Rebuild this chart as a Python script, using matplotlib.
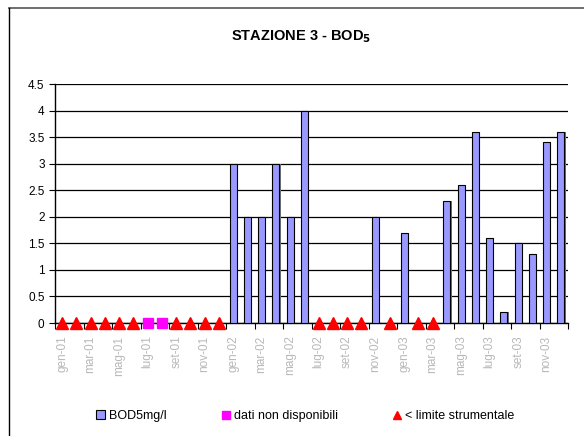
import matplotlib
matplotlib.use("Agg")
import matplotlib.pyplot as plt
from matplotlib.lines import Line2D
from matplotlib.patches import Patch
import numpy as np

plt.rcParams['font.family'] = ['Liberation Sans', 'DejaVu Sans']

months = ["gen", "feb", "mar", "apr", "mag", "giu",
          "lug", "ago", "set", "ott", "nov", "dic"]
years = ["01", "02", "03"]
categories = [f"{m}-{y}" for y in years for m in months]

# BOD5 (mg/l); None = no measured value
bod5 = [None, None, None, None, None, None, None, None, None, None, None, None,
        3.0, 2.0, 2.0, 3.0, 2.0, 4.0, None, None, None, None, 2.0, None,
        1.7, None, None, 2.3, 2.6, 3.6, 1.6, 0.2, 1.5, 1.3, 3.4, 3.6]
# months with data not available
no_data = ["lug-01", "ago-01"]
# months below the instrumental limit
below_limit = ["gen-01", "feb-01", "mar-01", "apr-01", "mag-01", "giu-01",
               "set-01", "ott-01", "nov-01", "dic-01",
               "lug-02", "ago-02", "set-02", "ott-02", "dic-02",
               "feb-03", "mar-03"]

fig = plt.figure(figsize=(5.84, 4.36), dpi=100)
ax = fig.add_axes([55 / 584, 1 - 323 / 436, (568 - 55) / 584, (323 - 84) / 436])

x = np.arange(len(categories))
bar_x = [i for i, v in enumerate(bod5) if v is not None]
bar_v = [v for v in bod5 if v is not None]

# drop shadow behind bars
ax.bar(np.array(bar_x) + 0.09, bar_v, width=0.5, color="#707070", zorder=2,
       linewidth=0)
ax.bar(bar_x, bar_v, width=0.5, color="#9999FF", edgecolor="black",
       linewidth=0.8, zorder=3)

nd_x = [categories.index(c) for c in no_data]
bl_x = [categories.index(c) for c in below_limit]
ax.plot(nd_x, [0] * len(nd_x), linestyle="none", marker="s", markersize=7.5,
        color="#FF00FF", zorder=5, clip_on=False)
ax.plot(bl_x, [0] * len(bl_x), linestyle="none", marker="^", markersize=8,
        color="#FF0000", zorder=5, clip_on=False)

ax.set_xlim(-0.5, len(categories) - 0.5)
ax.set_ylim(0, 4.5)
ax.set_yticks(np.arange(0, 4.51, 0.5))
ax.set_yticklabels(["0", "0.5", "1", "1.5", "2", "2.5", "3", "3.5", "4", "4.5"])
ax.yaxis.grid(True, color="black", linewidth=0.9)
ax.set_axisbelow(True)

ax.set_xticks(x[::2])
ax.set_xticklabels(categories[::2], rotation=90, color="#b8b8b8", fontsize=8.5)
ax.tick_params(axis="x", which="major", length=0, pad=9)
ax.set_xticks(np.arange(-0.5, len(categories), 2), minor=True)
ax.tick_params(axis="x", which="minor", length=4, width=0.8, color="black",
               direction="out")
ax.tick_params(axis="y", labelsize=8.5, length=4, width=0.8, direction="out")

for s in ["top", "right"]:
    ax.spines[s].set_visible(False)
for s in ["left", "bottom"]:
    ax.spines[s].set_linewidth(1.0)
ax.set_facecolor("white")

fig.text(0.515, 1 - 37 / 436, r"STAZIONE 3 - BOD$_\mathbf{5}$", ha="center",
         va="center", fontsize=10.5, fontweight="bold")

handles = [
    Patch(facecolor="#9999FF", edgecolor="black", linewidth=0.8),
    Line2D([], [], linestyle="none", marker="s", markersize=6, color="#FF00FF"),
    Line2D([], [], linestyle="none", marker="^", markersize=6, color="#FF0000"),
]
labels = ["BOD5mg/l", "dati non disponibili", "< limite strumentale"]
fig.legend(handles, labels, loc="center", bbox_to_anchor=(0.523, 1 - 416 / 436),
           ncol=3, frameon=False, fontsize=9, handlelength=0.7,
           handletextpad=0.3, columnspacing=4.4)

# outer frame lines
fig.add_artist(Line2D([9 / 584, 1], [1 - 8 / 436, 1 - 8 / 436],
                      color="#555555", linewidth=1.2))
fig.add_artist(Line2D([9 / 584, 9 / 584], [0, 1 - 8 / 436],
                      color="black", linewidth=1.0))

fig.savefig("out.png", dpi=100, facecolor="white")
